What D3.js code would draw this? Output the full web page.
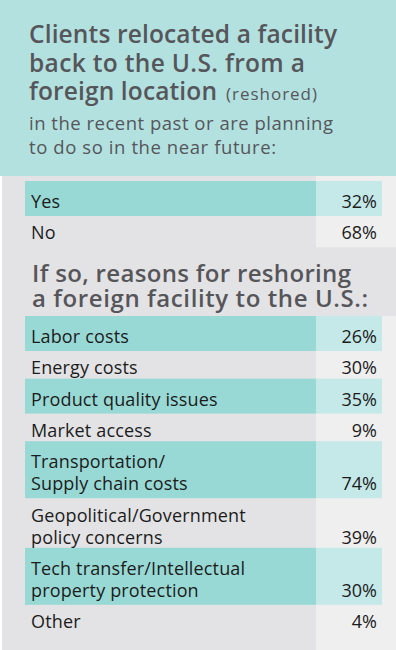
<!DOCTYPE html>
<html><head><meta charset="utf-8">
<script src="https://cdn.jsdelivr.net/npm/d3@7/dist/d3.min.js"></script>
<style>html,body{margin:0;padding:0;background:#fff;}svg{display:block;}</style>
</head><body>
<script>
// ---- data ----
const titleLines = ["Clients relocated a facility", "back to the U.S. from a", "foreign location"];
const titleNote = "(reshored)";
const subtitleLines = ["in the recent past or are planning", "to do so in the near future:"];
const q1Labels = ["Yes", "No"];
const q1Values = [32, 68];
const sectionLines = ["If so, reasons for reshoring", "a foreign facility to the U.S.:"];
const reasonLabels = [
  ["Labor costs"],
  ["Energy costs"],
  ["Product quality issues"],
  ["Market access"],
  ["Transportation/", "Supply chain costs"],
  ["Geopolitical/Government", "policy concerns"],
  ["Tech transfer/Intellectual", "property protection"],
  ["Other"]
];
const reasonValues = [26, 30, 35, 9, 74, 39, 30, 4];

// ---- layout ----
const W = 396, H = 650;
const FONT = "'Open Sans', Lato, sans-serif";
const C = {
  header: "#b3e1e0", page: "#e3e3e5", col: "#efefef",
  teal: "#99d9d5", tealLight: "#c5e9e8", title: "#56565a", text: "#1c1c1c"
};
const svg = d3.select("body").append("svg").attr("width", W).attr("height", H);

svg.append("rect").attr("x", 2).attr("y", 0).attr("width", W - 2).attr("height", H).attr("fill", C.page);
svg.append("rect").attr("x", 0).attr("y", 0).attr("width", W).attr("height", 176).attr("fill", C.header);

const x = d3.scaleOrdinal().domain(["bar0", "split", "bar1", "valueRight", "pageRight"]).range([25, 316, 382, 377, 396]);

function rowsLayout(labels, values, firstBaseline) {
  const pitch = 31.3, lineGap = 22;
  let b = firstBaseline;
  return labels.map((lines, i) => {
    const r = { lines, value: values[i], i, first: b, last: b + (lines.length - 1) * lineGap };
    b = r.last + pitch;
    return r;
  });
}
const rows1 = rowsLayout(q1Labels.map(d => [d]), q1Values, 208);
const rows2 = rowsLayout(reasonLabels, reasonValues, 343);

function colSeg(y0, y1) {
  svg.append("rect").attr("x", x("split")).attr("y", y0).attr("width", x("pageRight") - x("split")).attr("height", y1 - y0).attr("fill", C.col);
}
colSeg(176, rows1[rows1.length - 1].last + 8);
colSeg(rows2[0].first - 27, H);

function drawRows(rows) {
  const g = svg.append("g");
  const hi = rows.filter(r => r.i % 2 === 0);
  g.selectAll("rect.dark").data(hi).join("rect")
    .attr("x", x("bar0")).attr("y", r => r.first - 27)
    .attr("width", x("split") - x("bar0")).attr("height", r => r.last + 8 - (r.first - 27))
    .attr("fill", C.teal);
  g.selectAll("rect.light").data(hi).join("rect")
    .attr("x", x("split")).attr("y", r => r.first - 27)
    .attr("width", x("bar1") - x("split")).attr("height", r => r.last + 8 - (r.first - 27))
    .attr("fill", C.tealLight);
  const t = g.selectAll("text.lab").data(rows).join("text")
    .attr("font-family", FONT).attr("font-size", 18).attr("letter-spacing", 0.15).attr("fill", C.text);
  t.selectAll("tspan").data(r => r.lines.map((l, k) => ({ l, y: r.first + k * 22 }))).join("tspan")
    .attr("x", 31).attr("y", d => d.y).text(d => d.l);
  g.selectAll("text.val").data(rows).join("text")
    .attr("x", x("valueRight")).attr("y", r => r.last).attr("text-anchor", "end")
    .attr("font-family", FONT).attr("font-size", 18).attr("fill", C.text)
    .text(r => r.value + "%");
}
drawRows(rows1);
drawRows(rows2);

function fitTo(sel, widths) {
  sel.each(function (d, i) {
    d3.select(this).attr("textLength", widths[i]).attr("lengthAdjust", "spacing");
  });
}

// title
const tt = svg.append("g").attr("font-family", FONT).attr("fill", C.title);
const tl = tt.selectAll("text.t").data(titleLines).join("text")
  .attr("x", 29).attr("y", (d, i) => 43 + i * 28.5)
  .attr("font-size", 24.5).attr("font-weight", 600).text(d => d);
fitTo(tl, [308, 276, 188]);
tt.append("text").attr("x", 226).attr("y", 43 + 2 * 28.5)
  .attr("font-size", 17).attr("font-weight", 400).attr("textLength", 91).attr("lengthAdjust", "spacing")
  .text(titleNote);
const st = tt.selectAll("text.s").data(subtitleLines).join("text")
  .attr("x", 29).attr("y", (d, i) => 130 + i * 24)
  .attr("font-size", 18.5).attr("font-weight", 500).text(d => d);
fitTo(st, [304, 247]);

const sh = svg.append("g").attr("font-family", FONT).attr("fill", C.title);
const sl = sh.selectAll("text").data(sectionLines).join("text")
  .attr("x", 32).attr("y", (d, i) => 282 + i * 25)
  .attr("font-size", 24).attr("font-weight", 600).text(d => d);
fitTo(sl, [319, 336]);
</script>
</body></html>
